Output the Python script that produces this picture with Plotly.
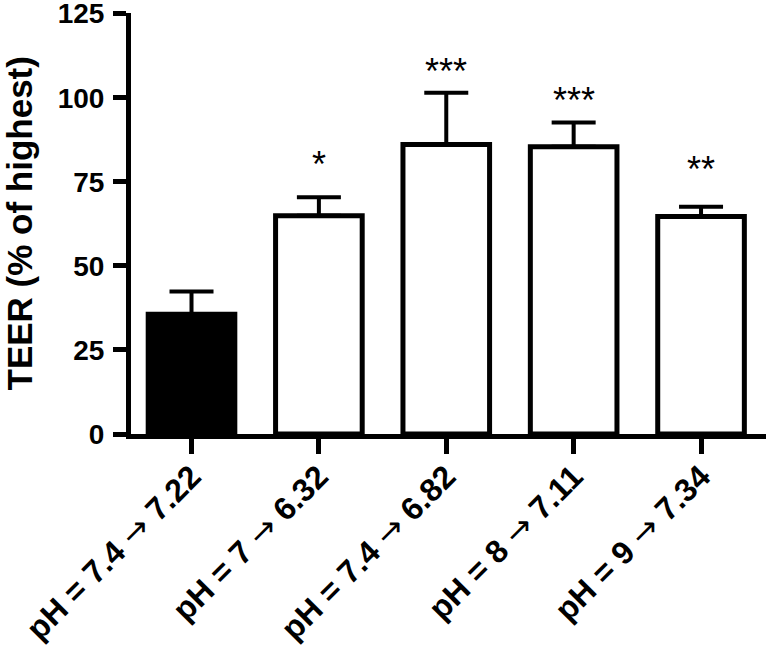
import plotly.graph_objects as go

ARROW = '<span style="font-family:DejaVu Sans;font-weight:normal">→</span>'
categories = ["pH = 7.4 → 7.22", "pH = 7 → 6.32", "pH = 7.4 → 6.82", "pH = 8 → 7.11", "pH = 9 → 7.34"]
teer_mean = [35.6, 64.9, 86.1, 85.4, 64.7]
teer_err = [6.8, 5.5, 15.4, 7.2, 2.9]
bar_colors = ["black", "white", "white", "white", "white"]
stars = ["", "*", "***", "***", "**"]
star_y = [None, 81.5, 109.3, 100.7, 80.0]
y_ticks = [0, 25, 50, 75, 100, 125]

FONT = "Liberation Sans, Arial, sans-serif"
tick_text = [c.replace("→", ARROW) for c in categories]

fig = go.Figure()
fig.add_trace(go.Bar(
    x=list(range(len(categories))),
    y=teer_mean,
    width=0.68,
    marker=dict(color=bar_colors, line=dict(color="black", width=5)),
    error_y=dict(type="data", array=teer_err, arrayminus=[0] * len(teer_err),
                 symmetric=False, color="black", thickness=4, width=22),
    showlegend=False,
))

for i, (s, yv) in enumerate(zip(stars, star_y)):
    if s:
        fig.add_annotation(x=i, y=yv, text=s, showarrow=False, yanchor="middle",
                           yshift=-5, font=dict(family=FONT, size=36, color="black"))

fig.add_annotation(xref="paper", yref="paper", x=0, y=0.5, xshift=-112,
                   text="TEER (% of highest)", textangle=-90, showarrow=False,
                   xanchor="center", yanchor="middle",
                   font=dict(family=FONT, size=35, color="black", weight="bold"))

fig.update_layout(
    template="simple_white",
    width=767, height=648,
    margin=dict(l=131, r=1, t=13, b=214, autoexpand=False),
    plot_bgcolor="white", paper_bgcolor="white",
)
fig.update_xaxes(
    range=[-0.475, 4.51], automargin=False,
    tickmode="array", tickvals=list(range(len(categories))), ticktext=tick_text,
    tickangle=-45, ticklabeloverflow="allow", ticklabelstandoff=-9,
    tickfont=dict(family=FONT, size=32, color="black", weight="bold"),
    showline=True, linecolor="black", linewidth=5, mirror=False,
    ticks="outside", ticklen=15, tickwidth=5, tickcolor="black",
    showgrid=False, zeroline=False,
)
fig.update_yaxes(
    range=[0, 125.2], automargin=False,
    tickmode="array", tickvals=y_ticks, ticklabeloverflow="allow", ticklabelstandoff=3,
    tickfont=dict(family=FONT, size=28, color="black", weight="bold"),
    showline=True, linecolor="black", linewidth=5, mirror=False,
    ticks="outside", ticklen=13, tickwidth=5, tickcolor="black",
    showgrid=False, zeroline=False,
)

fig.write_html("out.html", config={"displayModeBar": False},
               post_script="document.body.style.margin='0px';")
